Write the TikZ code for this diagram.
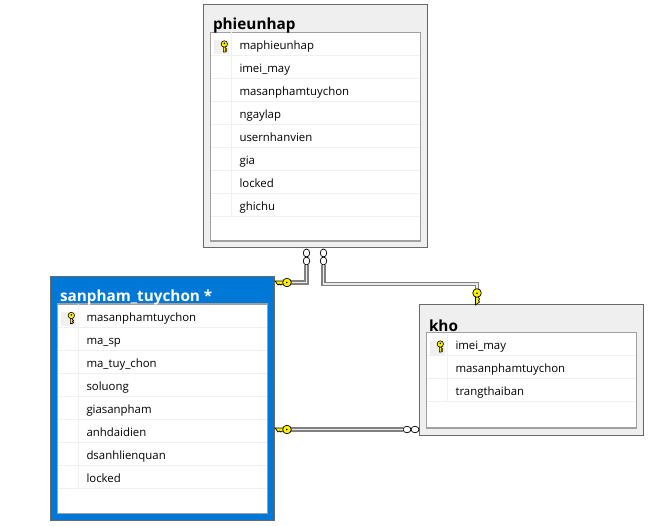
\documentclass[tikz,border=0pt]{standalone}
\usepackage{fontspec}
\setmainfont{Open Sans}
\usetikzlibrary{%
  positioning,calc,
  shapes.geometric
}
\definecolor{panegray}{HTML}{EFEFEF}
\definecolor{edgegray}{HTML}{696969}
\definecolor{innergray}{HTML}{A0A0A0}
\definecolor{rowgray}{HTML}{F0F0F0}
\definecolor{selblue}{HTML}{0078D7}
\definecolor{keyyellow}{HTML}{FFF200}
\tikzset{
  dbouter/.style={draw=edgegray, line width=1pt, minimum width=224.5pt, anchor=north west, outer sep=0pt, inner sep=0pt},
  dbinner/.style={draw=innergray, fill=white, line width=1.1pt, minimum width=209.5pt, anchor=north west, outer sep=0pt, inner sep=0pt},
  dbtitle/.style={anchor=west, font=\fontsize{15.3}{17}\selectfont\bfseries, inner sep=0pt},
  dbrow/.style={anchor=west, font=\fontsize{11.4}{13}\selectfont, inner sep=0pt, text height=8pt, text depth=3pt, text=black},
  rowline/.style={draw=rowgray, line width=1pt},
  pipe/.style={draw=innergray!80!black, double=white!92!black, double distance=1.5pt, line width=1.3pt, line join=miter},
  ring/.style={draw=black, fill=white, ellipse, line width=0.7pt, inner sep=0pt, minimum width=6.5pt, minimum height=8pt},
  ringh/.style={ring, minimum width=8pt, minimum height=6.5pt},
  smallkey/.pic={
    \draw[fill=keyyellow, line width=0.6pt] (-1,-2) -- (-1,5) -- (1,5) -- (2.4,4) -- (1,3) -- (2.4,2) -- (1,1) -- (1,-2) -- cycle;
    \draw[fill=keyyellow, line width=0.6pt] (0,-3) circle (3.2);
    \fill (0,-3.6) circle (0.9);
  },
  bigkey/.pic={
    \draw[fill=keyyellow, line width=0.7pt] (0,-1.5) -- (-12,-1.5) -- (-9,2.5) -- (-7.5,1.5) -- (-6,2.5) -- (-4.5,1.5) -- (0,1.5) -- cycle;
    \draw[fill=keyyellow, line width=0.7pt] (0,0) circle (4.3);
    \fill (-0.3,0) circle (0.9);
  }
}
\begin{document}
\begin{tikzpicture}[x=1pt,y=-1pt]
  \useasboundingbox (0,0) rectangle (655,526);
  % name (x,y) [outer height] [title drop, inner height] {title} {fill} {title colour} {rows}
  \def\dbtable#1(#2,#3)[#4][#5,#6]#7#8#9{%
    \node[dbouter, minimum height=#4pt, fill=#8] (#1) at (#2,#3) {};
    \node[dbinner, minimum height=#6pt] (#1inner) at ([xshift=7.5pt,yshift=-#5pt]#1.north west) {};
    \node[dbtitle, text=#9] (#1title) at ([xshift=9.5pt,yshift=-21pt]#1.north west) {#7};
  }
  \def\dbrows#1#2{%
    \foreach \col [count=\i] in {#2}{
      \pgfmathsetmacro{\ytop}{23*(\i-1)}
      \pgfmathsetmacro{\ybot}{23*\i}
      \pgfmathsetmacro{\ymid}{23*\i-8.5}
      \draw[rowline] ([yshift=-\ybot pt]#1inner.north west) -- ([yshift=-\ybot pt]#1inner.north east);
      \draw[rowline] ([xshift=21pt,yshift=-\ytop pt]#1inner.north west) -- ([xshift=21pt,yshift=-\ybot pt]#1inner.north west);
      \node[dbrow] (#1row\i) at ([xshift=28.5pt,yshift=-\ymid pt]#1inner.north west) {\col};
    }
    \fill[rowgray] ([xshift=-25pt,yshift=-7.5pt]#1row1.west) rectangle ([xshift=-10.5pt,yshift=6.5pt]#1row1.west);
    \pic at ([xshift=-15pt]#1row1.west) {smallkey};
  }

  \dbtable{phieunhap}(203.3,4.5)[243.5][28,208.5]{phieunhap}{panegray}{black}
  \dbrows{phieunhap}{maphieunhap,imei\_may,masanphamtuychon,ngaylap,usernhanvien,gia,locked,ghichu}

  \dbtable{sanpham}(50.3,277)[243.5][27,209.5]{sanpham\_tuychon *}{selblue}{white}
  \dbrows{sanpham}{masanphamtuychon,ma\_sp,ma\_tuy\_chon,soluong,giasanpham,anhdaidien,dsanhlienquan,locked}

  \dbtable{kho}(419.3,304.5)[130.5][28,95.5]{kho}{panegray}{black}
  \dbrows{kho}{imei\_may,masanphamtuychon,trangthaiban}

  % links
  \node[ring] (ringa1) at (306.5,253) {};
  \node[ring] (ringa2) at (306.5,261) {};
  \node[ring] (ringb1) at (323.5,253) {};
  \node[ring] (ringb2) at (323.5,261) {};
  \node[ringh] (ringc1) at (415,429.5) {};
  \node[ringh] (ringc2) at (407,429.5) {};
  \coordinate (keya) at (287,282.5);
  \coordinate (keyb) at (477,293);
  \coordinate (keyc) at (287,429.5);

  \draw[pipe] (ringa2.south) |- (keya);
  \draw[pipe] (ringb2.south) |- ($(keyb)+(0,-9)$) -- (keyb);
  \draw[pipe] (ringc2.west) -- (keyc);

  \pic at (keya) {bigkey};
  \pic at (keyc) {bigkey};
  \pic[rotate=90] at (keyb) {bigkey};
\end{tikzpicture}
\end{document}
